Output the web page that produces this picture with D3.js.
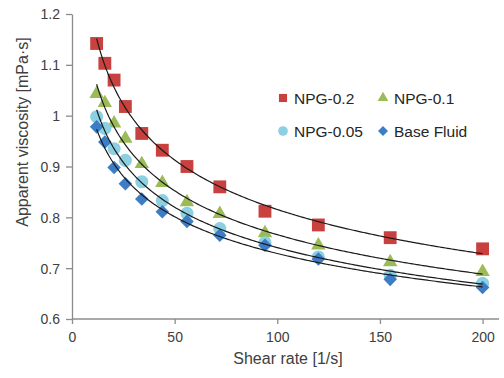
<!DOCTYPE html>
<html>
<head>
<meta charset="utf-8">
<script src="https://cdn.jsdelivr.net/npm/d3@7"></script>
<style>
  body { margin: 0; background: #fff; }
  svg { font-family: "Liberation Sans", Arial, sans-serif; }
</style>
</head>
<body>
<svg id="chart" width="504" height="378"></svg>
<script>
// shear rate [1/s]
var shearRate = [12, 16, 20.5, 26, 34, 44, 56, 72, 94, 120, 155, 200];
var npg02 = [1.142, 1.103, 1.070, 1.018, 0.965, 0.932, 0.900, 0.860, 0.812, 0.785, 0.760, 0.738];
var npg01 = [1.043, 1.025, 0.985, 0.955, 0.905, 0.868, 0.830, 0.807, 0.769, 0.745, 0.712, 0.693];
var npg005 = [0.998, 0.975, 0.935, 0.912, 0.870, 0.833, 0.808, 0.778, 0.750, 0.722, 0.686, 0.670];
var baseFluid = [0.978, 0.948, 0.898, 0.866, 0.836, 0.811, 0.792, 0.765, 0.745, 0.718, 0.678, 0.662];
var seriesNames = ['NPG-0.2', 'NPG-0.1', 'NPG-0.05', 'Base Fluid'];
var xTicks = [0, 50, 100, 150, 200];
var yTicks = [0.6, 0.7, 0.8, 0.9, 1.0, 1.1, 1.2];

var series = [
  {name: seriesNames[0], values: npg02, color: '#C8413E', shape: 'square'},
  {name: seriesNames[1], values: npg01, color: '#9BBB59', shape: 'triangle'},
  {name: seriesNames[2], values: npg005, color: '#8DD0E1', shape: 'circle'},
  {name: seriesNames[3], values: baseFluid, color: '#3C7DC6', shape: 'diamond'}
];

function markerPath(shape, scale) {
  var sizes = {square: 165, triangle: 90, circle: 135, diamond: 92};
  var types = {square: d3.symbolSquare, triangle: d3.symbolTriangle, circle: d3.symbolCircle, diamond: d3.symbolSquare};
  return d3.symbol().type(types[shape]).size(sizes[shape] * scale)();
}

var svg = d3.select('#chart');
var x = d3.scaleLinear().domain([0, 208]).range([72, 499]);
var y = d3.scaleLinear().domain([0.6, 1.2]).range([319, 14]);

var axisColor = '#8c8c8c';
var textColor = '#404040';

// axes
var xAxisG = svg.append('g')
  .attr('transform', 'translate(0,319)')
  .call(d3.axisBottom(x).tickValues(xTicks).tickSize(5).tickSizeOuter(0).tickPadding(8));
var yAxisG = svg.append('g')
  .attr('transform', 'translate(72,0)')
  .call(d3.axisLeft(y).tickValues(yTicks).tickSize(6).tickSizeOuter(0).tickPadding(6)
    .tickFormat(d => d3.format('')(Math.round(d * 10) / 10)));

[xAxisG, yAxisG].forEach(function(g) {
  g.selectAll('path, line').attr('stroke', axisColor).attr('stroke-width', 1.3);
  g.selectAll('text').attr('fill', textColor).style('font-size', '14px')
    .style('font-family', '"Liberation Sans", Arial, sans-serif');
});
xAxisG.select('.domain').attr('d', 'M' + x(0) + ',0H499');
yAxisG.selectAll('text').attr('dy', '0.35em');

svg.append('text')
  .attr('x', 288).attr('y', 364)
  .attr('text-anchor', 'middle')
  .attr('fill', textColor)
  .style('font-size', '16px')
  .text('Shear rate [1/s]');

svg.append('text')
  .attr('transform', 'translate(28,132) rotate(-90)')
  .attr('text-anchor', 'middle')
  .attr('fill', textColor)
  .style('font-size', '16px')
  .text('Apparent viscosity [mPa\u00b7s]');

// power-law trend lines fitted to each series (least squares in log space)
function powerFit(xs, ys) {
  var lx = xs.map(Math.log), ly = ys.map(Math.log);
  var mx = d3.mean(lx), my = d3.mean(ly);
  var b = d3.sum(lx.map((v, i) => (v - mx) * (ly[i] - my))) / d3.sum(lx.map(v => (v - mx) * (v - mx)));
  var a = Math.exp(my - b * mx);
  return function(v) { return a * Math.pow(v, b); };
}

var line = d3.line().x(d => x(d[0])).y(d => y(d[1]));

// markers
series.forEach(function(s) {
  svg.append('g').selectAll('path')
    .data(s.values)
    .enter().append('path')
    .attr('d', markerPath(s.shape, 1))
    .attr('transform', (d, i) => 'translate(' + x(shearRate[i]) + ',' + y(d) + ')' +
      (s.shape === 'diamond' ? ' rotate(45)' : ''))
    .attr('fill', s.color);
});

series.forEach(function(s) {
  var f = powerFit(shearRate, s.values);
  var xs = d3.range(shearRate[0], 200.01, 1);
  svg.append('path')
    .datum(xs.map(v => [v, f(v)]))
    .attr('d', line)
    .attr('fill', 'none')
    .attr('stroke', '#1a1a1a')
    .attr('stroke-width', 1.2);
});

// legend
var legendPos = [[283, 98], [383, 98], [283, 131], [383, 131]];
series.forEach(function(s, i) {
  var g = svg.append('g').attr('transform', 'translate(' + legendPos[i] + ')');
  g.append('path')
    .attr('d', markerPath(s.shape, s.shape === 'square' ? 0.4 : 0.55))
    .attr('transform', s.shape === 'diamond' ? 'rotate(45)' : null)
    .attr('fill', s.color);
  g.append('text')
    .attr('x', 11).attr('dy', '0.36em')
    .attr('fill', '#262626')
    .style('font-size', '15.5px')
    .text(s.name);
});
</script>
</body>
</html>
